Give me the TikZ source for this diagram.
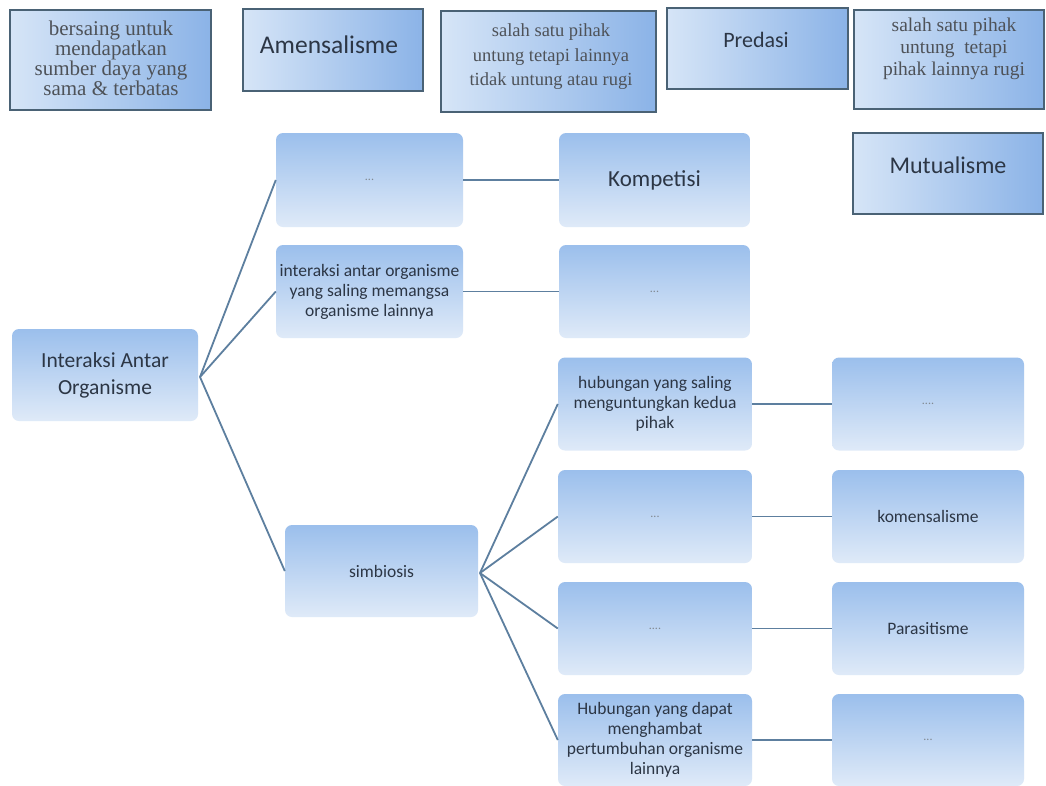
\documentclass[tikz,border=0pt]{standalone}
\usepackage{fontspec}
\setmainfont{Carlito}
\newfontfamily\serifg{Liberation Serif}
\definecolor{treeTop}{HTML}{9BBFEC}
\definecolor{treeBot}{HTML}{DFEAF8}
\definecolor{tLeft}{HTML}{D6E5F7}
\definecolor{tRight}{HTML}{8BB3E7}
\definecolor{bord}{HTML}{4A6275}
\definecolor{lineC}{HTML}{5D7F9F}
\definecolor{txt}{HTML}{2C3645}
\definecolor{sertxt}{HTML}{4E5258}
\definecolor{dotc}{HTML}{808890}
\begin{document}
\begin{tikzpicture}[x=1pt,y=-1pt,
  treebox/.style={rounded corners=7pt, top color=treeTop, bottom color=treeBot, draw=none,
    text=txt, align=center, inner sep=3pt, font=\fontsize{17.5}{20}\selectfont},
  leafbox/.style={treebox, minimum width=192pt, minimum height=93pt},
  topbox/.style={draw=bord, line width=2pt, left color=tLeft, right color=tRight, inner sep=0pt},
  sertext/.style={align=center, text=sertxt, font=\serifg\fontsize{19}{21}\selectfont, inner sep=0pt},
  bigtext/.style={text=txt, font=\fontsize{24}{26}\selectfont, inner sep=0pt},
  dots/.style={text=dotc, font=\fontsize{12}{14}\selectfont},
  link/.style={draw=lineC, line width=1.8pt}]
\useasboundingbox (0,0) rectangle (1046,785);
\fill[white] (0,0) rectangle (1046,785);

% top row boxes
\node[topbox, minimum width=201pt, minimum height=100pt] (t1) at (110,60) {};
\node[sertext, font=\serifg\fontsize{21}{20}\selectfont] (t1t) at (111,58) {bersaing untuk\\mendapatkan\\sumber daya yang\\sama \& terbatas};
\node[topbox, minimum width=180pt, minimum height=82pt] (t2) at (333,50) {};
\node[bigtext, font=\fontsize{25.5}{28}\selectfont] (t2t) at (329,45) {Amensalisme};
\node[topbox, minimum width=215pt, minimum height=101pt] (t3) at (548.5,61.5) {};
\node[sertext, font=\serifg\fontsize{18.5}{24.5}\selectfont] (t3t) at (551,57) {salah satu pihak\\untung tetapi lainnya\\tidak untung atau rugi};
\node[topbox, minimum width=181pt, minimum height=81pt] (t4) at (757,48.5) {};
\node[bigtext, font=\fontsize{22}{24}\selectfont] (t4t) at (756,40) {Predasi};
\node[topbox, minimum width=190pt, minimum height=99pt] (t5) at (949,59.5) {};
\node[sertext, font=\serifg\fontsize{19.5}{22}\selectfont] (t5t) at (954,49) {salah satu pihak\\untung~ tetapi\\pihak lainnya rugi};
\node[topbox, minimum width=190pt, minimum height=81pt] (t6) at (948,173.5) {};
\node[bigtext] (t6t) at (948,165) {Mutualisme};

% tree
\node[treebox, minimum width=186pt, minimum height=92pt, font=\fontsize{21.5}{27}\selectfont] (root) at (105,375) {Interaksi Antar\\Organisme};
\node[treebox, minimum width=187pt, minimum height=94pt, dots] (a1) at (369.5,180) {...};
\node[treebox, minimum width=187pt, minimum height=93pt] (a2) at (369.5,291.5) {interaksi antar organisme\\yang saling memangsa\\organisme lainnya};
\node[treebox, minimum width=193pt, minimum height=92pt] (sim) at (381.5,571) {simbiosis};

\node[treebox, minimum width=191pt, minimum height=94pt, font=\fontsize{23}{26}\selectfont] (b1) at (654.5,180) {Kompetisi};
\node[treebox, minimum width=191pt, minimum height=93pt, dots] (b2) at (654.5,291.5) {...};

\node[leafbox, minimum width=194pt] (c1) at (655,404) {hubungan yang saling\\menguntungkan kedua\\pihak};
\node[leafbox, minimum width=194pt, dots] (c2) at (655,516.5) {...};
\node[leafbox, minimum width=194pt, dots] (c3) at (655,628.5) {....};
\node[leafbox, minimum width=194pt, minimum height=92pt] (c4) at (655,740) {Hubungan yang dapat\\menghambat\\pertumbuhan organisme\\lainnya};

\node[leafbox, dots] (d1) at (928,404) {....};
\node[leafbox] (d2) at (928,516.5) {komensalisme};
\node[leafbox] (d3) at (928,628.5) {Parasitisme};
\node[leafbox, minimum height=92pt, dots] (d4) at (928,740) {...};

% connectors
\coordinate (rj) at (200,377);
\coordinate (sj) at (480,573);
\draw[link] (rj) -- (a1.west);
\draw[link] (rj) -- (a2.west);
\draw[link] (rj) -- (sim.west);
\draw[link] (a1.east) -- (b1.west);
\draw[link, line width=1.3pt] (a2.east) -- (b2.west);
\draw[link] (sj) -- (c1.west);
\draw[link] (sj) -- (c2.west);
\draw[link] (sj) -- (c3.west);
\draw[link] (sj) -- (c4.west);
\draw[link, line width=1.3pt] (c1.east) -- (d1.west);
\draw[link] (c2.east) -- (d2.west);
\draw[link] (c3.east) -- (d3.west);
\draw[link] (c4.east) -- (d4.west);
\end{tikzpicture}
\end{document}
